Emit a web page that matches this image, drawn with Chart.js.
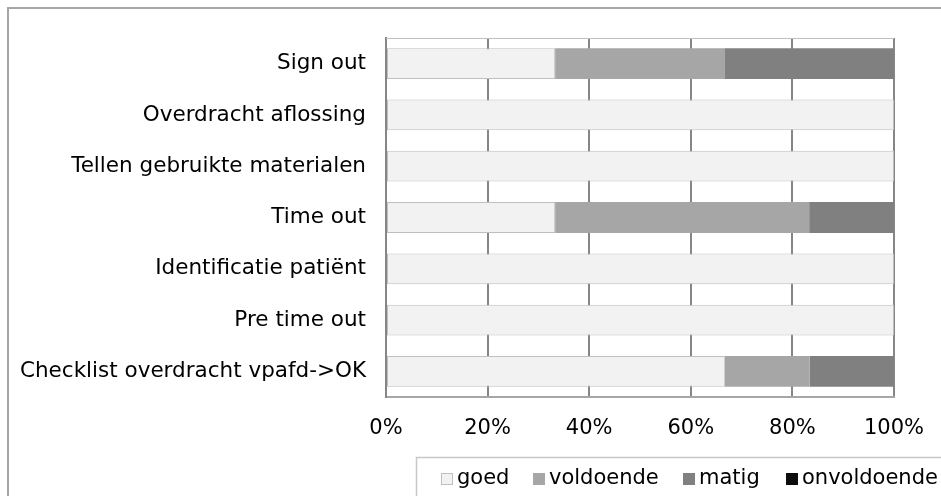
<!DOCTYPE html>
<html>
<head>
<meta charset="utf-8">
<script src="https://cdn.jsdelivr.net/npm/chart.js@4/dist/chart.umd.min.js"></script>
<style>
html,body{margin:0;padding:0;background:#fff;overflow:hidden;}
#wrap{position:absolute;left:0;top:0;width:941px;height:496px;}
</style>
</head>
<body>
<div id="wrap"><canvas id="c" width="941" height="496"></canvas></div>
<script>
const categories = ["Sign out","Overdracht aflossing","Tellen gebruikte materialen","Time out","Identificatie patiënt","Pre time out","Checklist overdracht vpafd->OK"];
const seriesNames = ["goed","voldoende","matig","onvoldoende"];
const goed = [33.3,100,100,33.3,100,100,66.7];
const voldoende = [33.3,0,0,50,0,0,16.7];
const matig = [33.4,0,0,16.7,0,0,16.6];
const onvoldoende = [0,0,0,0,0,0,0];
const xTicks = [0,20,40,60,80,100];

const colors = ["#f2f2f2","#a6a6a6","#808080","#0d0d0d"];
const borders = ["#bfbfbf","#a6a6a6","#808080","#0d0d0d"];
const FONT = "DejaVu Sans, Verdana, sans-serif";

const values = [goed, voldoende, matig, onvoldoende];
const datasets = seriesNames.map((n,i)=>({
  label:n, data:values[i], backgroundColor:colors[i], borderColor:borders[i],
  borderWidth: i===0?1:0, borderSkipped:false,
  barPercentage:0.6, categoryPercentage:1.0
}));

const framePlugin = {
  id:'frame',
  beforeDraw(chart){
    const ctx = chart.ctx;
    ctx.save();
    ctx.fillStyle = '#fff';
    ctx.fillRect(0,0,chart.width,chart.height);
    ctx.strokeStyle = '#a6a6a6';
    ctx.lineWidth = 2;
    ctx.strokeRect(8,8,chart.width+20,chart.height+20);
    ctx.restore();
  },
  afterDraw(chart){
    const ctx = chart.ctx;
    const a = chart.chartArea;
    ctx.save();
    ctx.strokeStyle = '#bfbfbf';
    ctx.lineWidth = 1;
    ctx.beginPath(); ctx.moveTo(a.left, a.top+0.5); ctx.lineTo(a.right, a.top+0.5); ctx.stroke();
    const lx = 416.5, ly = 457.5;
    ctx.strokeStyle = '#c8c8c8';
    ctx.lineWidth = 1.5;
    ctx.strokeRect(lx, ly, chart.width, 60);
    ctx.font = '21px ' + FONT;
    ctx.textBaseline = 'middle';
    const itemX = [441, 533, 683, 786];
    seriesNames.forEach((n,i)=>{
      const x = itemX[i], y = 479;
      ctx.fillStyle = colors[i];
      ctx.fillRect(x, y-6, 12, 12);
      if(i===0){ ctx.strokeStyle='#bfbfbf'; ctx.lineWidth=1; ctx.strokeRect(x+0.5,y-5.5,11,11); }
      ctx.fillStyle = '#000';
      ctx.fillText(n, x+16, y);
    });
    ctx.restore();
  }
};

new Chart(document.getElementById('c'), {
  type:'bar',
  data:{ labels:categories, datasets },
  options:{
    indexAxis:'y',
    responsive:false,
    animation:false,
    devicePixelRatio:1,
    layout:{ padding:{ left:0, top:38, right:47, bottom:0 } },
    plugins:{ legend:{display:false}, tooltip:{enabled:false} },
    scales:{
      x:{
        stacked:true, min:0, max:100,
        afterFit(s){ s.height = 99; s.paddingLeft = 0; s.paddingRight = 0; },
        afterBuildTicks(s){ s.ticks = xTicks.map(v=>({value:v})); },
        ticks:{ callback:v=>v+'%', color:'#000', font:{family:FONT, size:21}, padding:19, maxRotation:0 },
        grid:{ color:'#868686', lineWidth:2, drawTicks:false, z:-1 },
        border:{ color:'#a6a6a6', width:2 }
      },
      y:{
        stacked:true,
        afterFit(s){ s.width = 386; s.paddingTop = 0; s.paddingBottom = 0; },
        ticks:{ color:'#000', font:{family:FONT, size:21.5}, padding:20 },
        grid:{ display:false, drawTicks:false },
        border:{ color:'#868686', width:2 }
      }
    }
  },
  plugins:[framePlugin]
});
</script>
</body>
</html>
